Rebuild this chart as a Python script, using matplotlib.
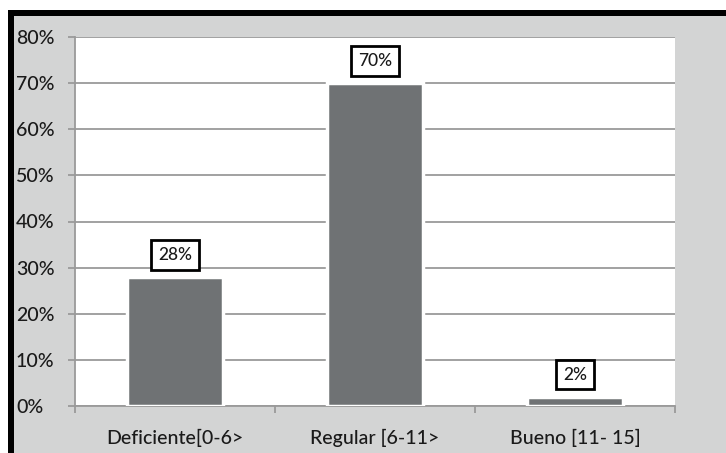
import matplotlib
matplotlib.use("Agg")
import matplotlib.pyplot as plt
from matplotlib.patches import Rectangle
from matplotlib.ticker import FixedLocator, PercentFormatter

categories = ["Deficiente[0-6>", "Regular [6-11>", "Bueno [11- 15]"]
values = [0.28, 0.70, 0.02]
value_labels = ["28%", "70%", "2%"]
yticks = [0, 0.1, 0.2, 0.3, 0.4, 0.5, 0.6, 0.7, 0.8]

W, H = 726, 453
plt.rcParams["font.family"] = ["Lato", "DejaVu Sans"]
fig = plt.figure(figsize=(W / 100, H / 100), dpi=100)
fig.patch.set_facecolor("white")

# Frame: black border on top/left, light gray chart background
fig.patches.append(Rectangle((8 / W, 0), (W - 8) / W, (H - 10) / H,
                             transform=fig.transFigure, facecolor="black",
                             edgecolor="none", zorder=-2))
fig.patches.append(Rectangle((14 / W, 0), (W - 14) / W, (H - 16) / H,
                             transform=fig.transFigure, facecolor="#d3d4d4",
                             edgecolor="none", zorder=-1))

left, right, top, bottom = 75, 675, 37, 406
ax = fig.add_axes([left / W, (H - bottom) / H, (right - left) / W, (bottom - top) / H])
ax.set_facecolor("white")

text_color = "#1a1a1a"
grid_color = "#9a9a9a"
x = list(range(len(categories)))
ax.bar(x, values, width=0.48, color="#6f7274", edgecolor="white",
       linewidth=2.5, zorder=3)

ax.set_xlim(-0.5, len(categories) - 0.5)
ax.set_ylim(0, 0.8)
ax.set_yticks(yticks)
ax.yaxis.set_major_formatter(PercentFormatter(1.0, decimals=0))
ax.yaxis.grid(True, color=grid_color, linewidth=1.3, zorder=1)
ax.set_axisbelow(True)

for side in ("top", "right"):
    ax.spines[side].set_visible(False)
for side in ("left", "bottom"):
    ax.spines[side].set_color(grid_color)
    ax.spines[side].set_linewidth(1.3)

ax.tick_params(axis="y", length=5, width=1.3, color=grid_color, pad=37.5,
               labelsize=14, labelcolor=text_color)
for lbl in ax.get_yticklabels():
    lbl.set_horizontalalignment("left")
    lbl.set_fontweight("medium")

# Category boundaries as ticks, names centered under each bar on a common baseline
ax.xaxis.set_major_locator(FixedLocator([i - 0.5 for i in range(len(categories) + 1)]))
ax.xaxis.set_major_formatter(plt.NullFormatter())
ax.tick_params(axis="x", which="major", length=5, width=1.3, color=grid_color)
for xi, name in zip(x, categories):
    ax.annotate(name, (xi, 0), xycoords=("data", "axes fraction"),
                xytext=(0, -38), textcoords="offset pixels",
                ha="center", va="baseline", fontsize=14, fontweight="medium",
                color=text_color, annotation_clip=False)

for xi, v, lab in zip(x, values, value_labels):
    ax.annotate(lab, (xi, v), xytext=(0, 16), textcoords="offset points",
                ha="center", va="center", fontsize=12.5, fontweight="medium",
                color=text_color,
                bbox=dict(boxstyle="square,pad=0.4", facecolor="white",
                          edgecolor="black", linewidth=2),
                zorder=5)

fig.savefig("out.png", dpi=100, facecolor=fig.get_facecolor())
